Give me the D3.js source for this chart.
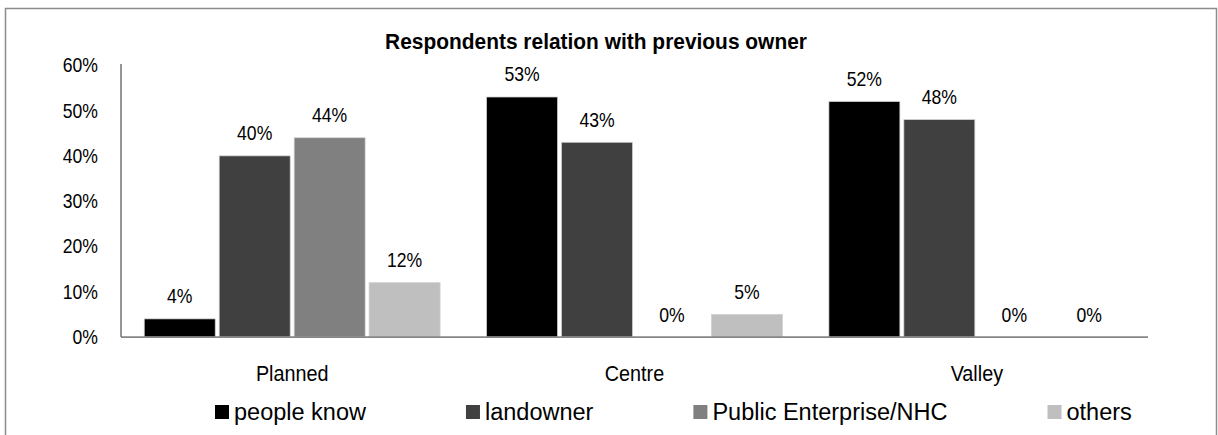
<!DOCTYPE html>
<html>
<head>
<meta charset="utf-8">
<script src="https://cdn.jsdelivr.net/npm/d3@7"></script>
<style>
  html, body { margin: 0; padding: 0; background: #fff; }
  svg { display: block; }
  text { font-family: "Liberation Sans", Arial, sans-serif; fill: #000; }
</style>
</head>
<body>
<svg id="chart" width="1218" height="435"></svg>
<script>
// Survey areas and answer categories
const areas = ["Planned", "Centre", "Valley"];
const relations = ["people know", "landowner", "Public Enterprise/NHC", "others"];

// Share of respondents (%) per area, one array per relation
const peopleKnow = [4, 53, 52];
const landowner  = [40, 43, 48];
const publicNHC  = [44, 0, 0];
const others     = [12, 5, 0];

const yTicks = [0, 10, 20, 30, 40, 50, 60];
const titleText = "Respondents relation with previous owner";

const seriesValues = [peopleKnow, landowner, publicNHC, others];
const colors = ["#000000", "#404040", "#808080", "#bfbfbf"];

const svg = d3.select("#chart");
const plot = { left: 121, right: 1148, top: 65.3, bottom: 337 };

// narrow label style: horizontally condensed text
const narrow = (x, y, sx) => `translate(${x},${y}) scale(${sx},1)`;

// outer frame
svg.append("rect")
  .attr("x", 5.5).attr("y", 8.5)
  .attr("width", 1211).attr("height", 450)
  .attr("fill", "#fff")
  .attr("stroke", "#8c8c8c").attr("stroke-width", 1.5);

const x0 = d3.scaleBand().domain(areas).range([plot.left, plot.right]).padding(0);
const x1 = d3.scaleBand().domain(relations).range([0, x0.bandwidth()])
  .paddingInner(0.053).paddingOuter(0.31);
const y = d3.scaleLinear().domain([0, 60]).range([plot.bottom, plot.top]);

// title
svg.append("text")
  .attr("transform", narrow(596, 49, 0.93))
  .attr("text-anchor", "middle")
  .style("font-size", "22.5px").style("font-weight", "bold")
  .text(titleText);

// y tick labels
svg.append("g").selectAll("text")
  .data(yTicks).join("text")
  .attr("transform", d => narrow(98, y(d) + 7, 0.88))
  .attr("text-anchor", "end")
  .style("font-size", "20px")
  .text(d => d + "%");

// bars
const groups = svg.append("g").selectAll("g")
  .data(areas).join("g")
  .attr("transform", d => `translate(${x0(d)},0)`);

const cells = (d, i) => relations.map((r, k) => ({ r, k, v: seriesValues[k][i] }));

groups.selectAll("rect")
  .data(cells)
  .join("rect")
  .attr("x", d => x1(d.r))
  .attr("width", x1.bandwidth())
  .attr("y", d => y(d.v))
  .attr("height", d => y(0) - y(d.v))
  .attr("fill", d => colors[d.k])
  .attr("stroke", d => d.v > 0 ? "#d0d0d0" : "none")
  .attr("stroke-width", 0.75);

// value labels
groups.selectAll("text")
  .data(cells)
  .join("text")
  .attr("transform", d => narrow(x1(d.r) + x1.bandwidth() / 2, y(d.v) - 15.5, 0.88))
  .attr("text-anchor", "middle")
  .style("font-size", "20px")
  .text(d => d.v + "%");

// axis lines
svg.append("line")
  .attr("x1", plot.left).attr("x2", plot.left)
  .attr("y1", 64).attr("y2", plot.bottom)
  .attr("stroke", "#868686").attr("stroke-width", 1.75);
svg.append("line")
  .attr("x1", plot.left).attr("x2", plot.right)
  .attr("y1", plot.bottom).attr("y2", plot.bottom)
  .attr("stroke", "#868686").attr("stroke-width", 1.75);

// category labels
svg.append("g").selectAll("text")
  .data(areas).join("text")
  .attr("transform", d => narrow(x0(d) + x0.bandwidth() / 2, 381, 0.9))
  .attr("text-anchor", "middle")
  .style("font-size", "22px")
  .text(d => d);

// legend, laid out left to right
const legend = svg.append("g");
let lx = 215;
relations.forEach((r, k) => {
  legend.append("rect")
    .attr("x", lx).attr("y", 405)
    .attr("width", 14).attr("height", 14)
    .attr("fill", colors[k]);
  const t = legend.append("text")
    .attr("x", lx + 19).attr("y", 420)
    .style("font-size", "23.5px")
    .text(r);
  lx += 19 + t.node().getComputedTextLength() + 100;
});
</script>
</body>
</html>
